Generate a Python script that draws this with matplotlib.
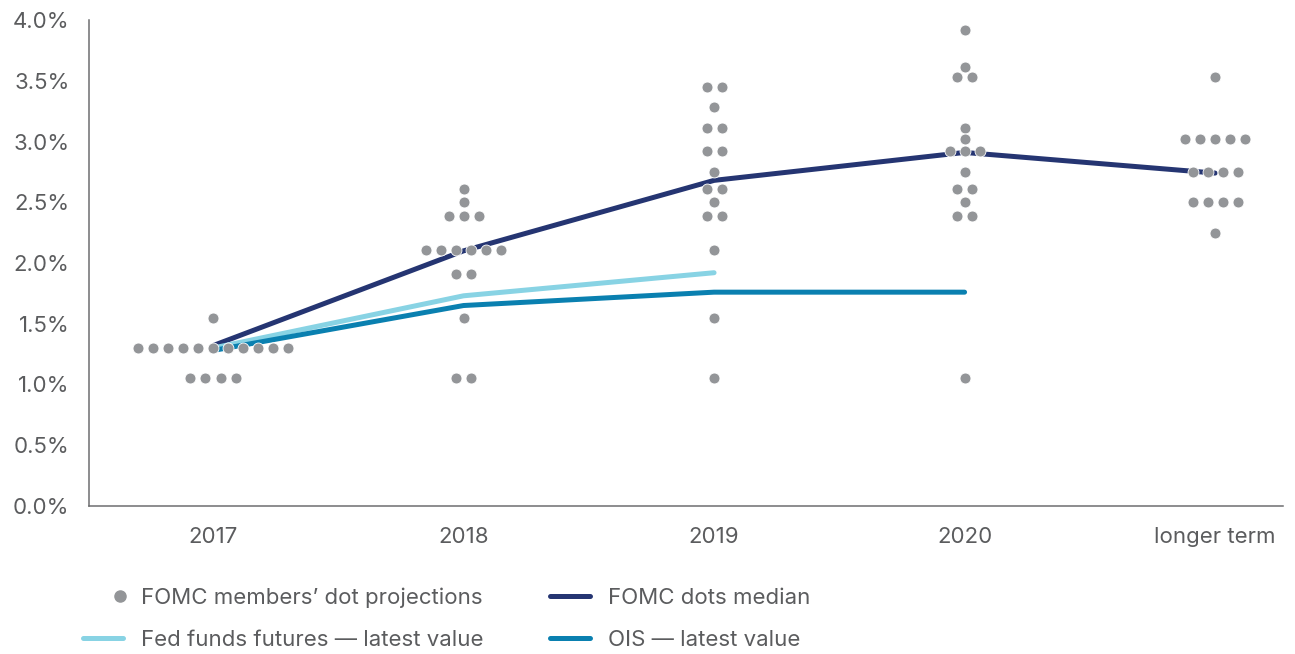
import matplotlib
matplotlib.use('Agg')
import matplotlib.pyplot as plt
import numpy as np
from matplotlib.lines import Line2D
from matplotlib.legend_handler import HandlerLine2D
from matplotlib.ticker import FuncFormatter

plt.rcParams['font.family'] = ['Inter', 'DejaVu Sans']

# Categories on the x axis.
categories = ['2017', '2018', '2019', '2020', 'longer term']

# FOMC members' dot projections, one list per category (percent).
dots_2017 = [1.55,
             1.30, 1.30, 1.30, 1.30, 1.30, 1.30, 1.30, 1.30, 1.30, 1.30, 1.30,
             1.05, 1.05, 1.05, 1.05]
dots_2018 = [2.61, 2.50, 2.39, 2.39, 2.39,
             2.11, 2.11, 2.11, 2.11, 2.11, 2.11,
             1.91, 1.91, 1.55, 1.05, 1.05]
dots_2019 = [3.45, 3.45, 3.28, 3.11, 3.11, 2.92, 2.92, 2.75,
             2.61, 2.61, 2.50, 2.39, 2.39, 2.11, 1.55, 1.05]
dots_2020 = [3.92, 3.61, 3.53, 3.53, 3.11, 3.02, 2.92, 2.92, 2.92,
             2.75, 2.61, 2.61, 2.50, 2.39, 2.39, 1.05]
dots_longer = [3.53, 3.02, 3.02, 3.02, 3.02, 3.02,
               2.75, 2.75, 2.75, 2.75,
               2.50, 2.50, 2.50, 2.50, 2.25]
all_dots = [dots_2017, dots_2018, dots_2019, dots_2020, dots_longer]

# Lines.
median_dots = [1.32, 2.10, 2.68, 2.91, 2.74]
fed_futures = [1.30, 1.73, 1.92]
ois = [1.28, 1.65, 1.76, 1.76]

# Colours.
DOT = '#939598'
NAVY = '#253572'
LIGHT = '#88d3e4'
TEAL = '#0a80b0'
TEXT = '#5b5c5e'
AXIS = '#6d6e70'

FS = 16


def spread(values, step=0.06):
    # Put equal values side by side, centred on the category.
    vals = np.array(values)
    offs = np.zeros(len(vals))
    for v in np.unique(vals):
        idx = np.where(vals == v)[0]
        offs[idx] = (np.arange(len(idx)) - (len(idx) - 1) / 2) * step
    return offs


class RightDot(HandlerLine2D):
    # Draw the legend dot at the right end of the handle box.
    def create_artists(self, legend, orig_handle, xdescent, ydescent,
                       width, height, fontsize, trans):
        arts = super().create_artists(legend, orig_handle, xdescent, ydescent,
                                      width, height, fontsize, trans)
        right = -xdescent + width - 0.15 * fontsize
        for a in arts:
            a.set_xdata(np.full(len(a.get_xdata()), right))
        return arts


fig = plt.figure(figsize=(12.95, 6.54), dpi=100)
ax = fig.add_axes([89 / 1295, 148 / 654, (1283 - 89) / 1295, (506 - 20) / 654])

x = np.arange(len(categories))

ax.plot(x, median_dots, color=NAVY, lw=3.6, solid_capstyle='round', zorder=2)
ax.plot(x[:len(fed_futures)], fed_futures, color=LIGHT, lw=3.6,
        solid_capstyle='round', zorder=2)
ax.plot(x[:len(ois)], ois, color=TEAL, lw=3.6, solid_capstyle='round', zorder=2)

for i, vals in enumerate(all_dots):
    ax.scatter(i + spread(vals), vals, s=62, color=DOT, edgecolor='white',
               linewidth=0.6, zorder=3)

ax.set_xlim(-0.495, 4.271)
ax.set_ylim(0, 4)
ax.set_xticks(x)
ax.set_xticklabels(categories)
ax.set_yticks(np.arange(0, 4.01, 0.5))
ax.yaxis.set_major_formatter(FuncFormatter(lambda v, p: '{:.1f}%'.format(v)))

for side in ['top', 'right']:
    ax.spines[side].set_visible(False)
for side in ['left', 'bottom']:
    ax.spines[side].set_color(AXIS)
    ax.spines[side].set_linewidth(1.1)

ax.tick_params(axis='both', length=0, labelsize=FS, labelcolor=TEXT)
ax.tick_params(axis='y', pad=14)
ax.tick_params(axis='x', pad=15)

handles = [
    Line2D([], [], ls='none', marker='o', markersize=8, color=DOT),
    Line2D([], [], color=LIGHT, lw=3.6, solid_capstyle='round'),
    Line2D([], [], color=NAVY, lw=3.6, solid_capstyle='round'),
    Line2D([], [], color=TEAL, lw=3.6, solid_capstyle='round'),
]
labels = [
    'FOMC members\u2019 dot projections',
    'Fed funds futures \u2014 latest value',
    'FOMC dots median',
    'OIS \u2014 latest value',
]
leg = fig.legend(handles, labels, ncol=2, loc='upper left',
                 bbox_to_anchor=(83 / 1295, (654 - 587) / 654),
                 frameon=False, fontsize=FS, labelcolor=TEXT,
                 handlelength=1.8, handletextpad=0.8, columnspacing=3.0,
                 labelspacing=1.0, borderpad=0, borderaxespad=0,
                 handler_map={handles[0]: RightDot(numpoints=1)})

fig.savefig('out.png', dpi=100)
